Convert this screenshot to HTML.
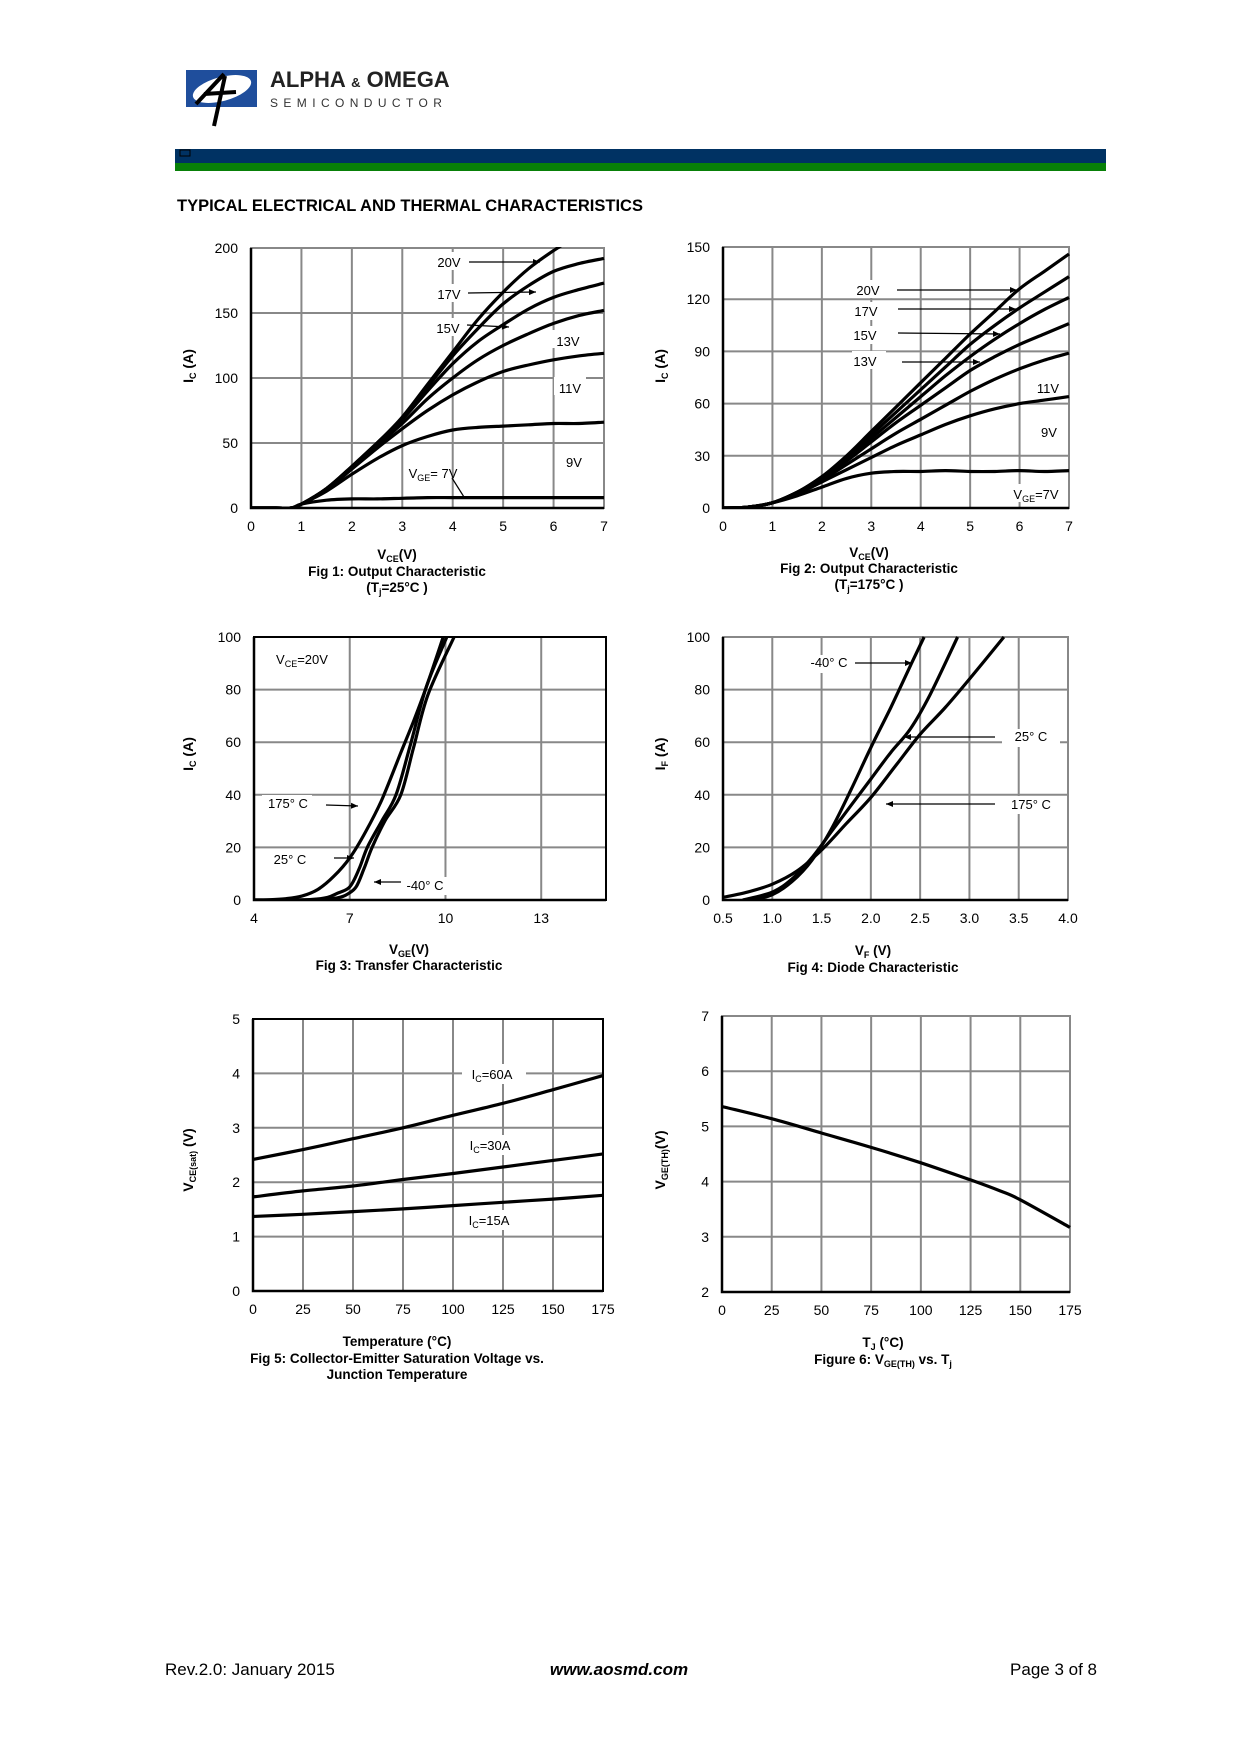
<!DOCTYPE html>
<html><head><meta charset="utf-8"><style>
html,body{margin:0;padding:0;background:#fff;}
body{width:1240px;height:1754px;position:relative;overflow:hidden;font-family:"Liberation Sans",Arial,sans-serif;}
svg text{font-family:"Liberation Sans",Arial,sans-serif;}
</style></head><body>
<svg id="pg" width="1240" height="1754" viewBox="0 0 1240 1754" xmlns="http://www.w3.org/2000/svg">
<g>
<rect x="186" y="70" width="71" height="37" fill="#1f4e9c"/>
<ellipse cx="222" cy="89" rx="30" ry="12" fill="#fff" transform="rotate(-15 222 89)"/>
<path d="M196 104 L224 74 M214 126 L225 76 M204 94 L236 92" stroke="#000" stroke-width="4" fill="none"/>
<text x="270" y="87" font-size="22" font-weight="bold" fill="#222">ALPHA <tspan font-size="13">&amp;</tspan> OMEGA</text>
<text x="270" y="107" font-size="12" fill="#333" letter-spacing="5.4">SEMICONDUCTOR</text>
</g>
<rect x="175" y="149" width="931" height="14" fill="#003263"/>
<rect x="175" y="163" width="931" height="8" fill="#088008"/>
<rect x="180" y="150" width="10" height="6" fill="none" stroke="#000" stroke-width="1"/>
<text x="177" y="211" font-size="16.5" font-weight="bold">TYPICAL ELECTRICAL AND THERMAL CHARACTERISTICS</text>
<g id="charts"></g>
<g font-size="17">
<text x="165" y="1675">Rev.2.0: January 2015</text>
<text x="619" y="1675" text-anchor="middle" font-style="italic" font-weight="bold">www.aosmd.com</text>
<text x="1097" y="1675" text-anchor="end">Page 3 of 8</text>
</g>
</svg>
<script>
// ---------- Fig 1 data ----------
const f1X = [0,0.5,0.8,1,1.5,2,2.5,3,3.5,4,4.5,5,5.5,6,6.5,7];
const f1V20 = [0,0,0,3,15,32,50,70,95,120,145,166,184,198,210,220];
const f1V17 = [0,0,0,3,15,32,50,69,93,117,138,157,171,182,188,192];
const f1V15 = [0,0,0,3,15,32,50,68,90,111,128,141,153,162,168,173];
const f1V13 = [0,0,0,3,15,31,48,65,84,100,114,125,134,142,148,152];
const f1V11 = [0,0,0,3,14,30,46,61,75,87,97,105,110,114,117,119];
const f1V9 = [0,0,0,3,13,26,38,48,55,60,62,63,64,65,65,66];
const f1V7 = [0,0,0,3,6,7,7,7.5,8,8,8,8,8,8,8,8];
const f1XTicks = [0,1,2,3,4,5,6,7];
const f1YTicks = [0,50,100,150,200];
// ---------- Fig 2 data ----------
const f2X = [0,0.5,1,1.5,2,2.5,3,3.5,4,4.5,5,5.5,6,6.5,7];
const f2V20 = [0,0.5,3,9,18,30,44,58,72,86,100,113,126,136,146];
const f2V17 = [0,0.5,3,9,18,29,42,55,68,81,94,105,115,124,133];
const f2V15 = [0,0.5,3,9,17,28,40,52,64,76,87,97,106,114,121];
const f2V13 = [0,0.5,3,9,17,27,38,49,59,69,79,87,94,100,106];
const f2V11 = [0,0.5,3,9,16,25,34,43,51,59,67,74,80,85,89];
const f2V9 = [0,0.5,3,8,15,22,29,36,42,48,53,57,60,62,64];
const f2V7 = [0,0.5,3,7,12,17,20,21,21,21.5,21,21,21.5,21,21.5];
const f2XTicks = [0,1,2,3,4,5,6,7];
const f2YTicks = [0,30,60,90,120,150];
// ---------- Fig 3 data ----------
const f3X175 = [4,4.5,5,5.5,6,6.5,7,7.5,8,8.6,9,9.4,9.93];
const f3Y175 = [0,0.1,0.5,1.5,4,9,16,26,38,56,68,81,100];
const f3X25 = [4,5,5.8,6.3,6.6,7,7.3,7.55,8,8.45,8.9,9.4,10.04];
const f3Y25 = [0,0,0.2,1,2.5,5,12,20,30,40,59,81,100];
const f3Xm40 = [4,5,6.1,6.6,6.9,7.2,7.45,7.7,8.1,8.6,9.0,9.45,10.27];
const f3Ym40 = [0,0,0.1,0.8,2,5,12,20,30,40,58,78,100];
const f3XTicks = [4,7,10,13];
const f3YTicks = [0,20,40,60,80,100];
// ---------- Fig 4 data ----------
const f4Xm40 = [0.8,1.0,1.2,1.4,1.6,1.8,2.0,2.2,2.4,2.54];
const f4Ym40 = [0,2,7,15,27,42,58,73,89,100];
const f4X25 = [0.7,1.0,1.2,1.4,1.6,1.8,2.0,2.2,2.4,2.6,2.88];
const f4Y25 = [0,3,8,16,26,36,46,56,65,78,100];
const f4X175 = [0.5,0.75,1.0,1.25,1.5,1.75,2.0,2.25,2.5,2.75,3.0,3.35];
const f4Y175 = [1,3,6,11,19,29,39,51,63,73,84,100];
const f4XTicks = [0.5,1.0,1.5,2.0,2.5,3.0,3.5,4.0];
const f4YTicks = [0,20,40,60,80,100];
// ---------- Fig 5 data ----------
const f5T = [0,25,50,75,100,125,150,175];
const f5I60 = [2.42,2.6,2.8,3.0,3.23,3.45,3.7,3.96];
const f5I30 = [1.73,1.84,1.93,2.05,2.16,2.28,2.4,2.52];
const f5I15 = [1.37,1.41,1.46,1.51,1.57,1.63,1.69,1.76];
const f5XTicks = [0,25,50,75,100,125,150,175];
const f5YTicks = [0,1,2,3,4,5];
// ---------- Fig 6 data ----------
const f6T = [0,25,50,75,100,125,140,150,175];
const f6V = [5.36,5.14,4.88,4.62,4.34,4.03,3.83,3.67,3.17];
const f6XTicks = [0,25,50,75,100,125,150,175];
const f6YTicks = [2,3,4,5,6,7];

const NS = "http://www.w3.org/2000/svg";
const root = document.getElementById('charts');
function mk(tag, attrs, parent){const e=document.createElementNS(NS,tag);for(const k in attrs)e.setAttribute(k,attrs[k]);(parent||root).appendChild(e);return e;}
function txt(parent,x,y,s,opts){const t=mk('text',Object.assign({x:x,y:y,'font-size':14},opts||{}),parent);t.innerHTML=s;return t;}

function chart(id,box,xd,yd,xt,yt,xfmt,borderBlackAll){
  const g=mk('g',{});
  
  
  const sx=v=>box.l+(v-xd[0])/(xd[1]-xd[0])*(box.r-box.l);
  const sy=v=>box.b-(v-yd[0])/(yd[1]-yd[0])*(box.b-box.t);
  const grid=mk('g',{stroke:'#888','stroke-width':2},g);
  
  
  xt.forEach(v=>{mk('line',{x1:sx(v),x2:sx(v),y1:box.t,y2:box.b},grid);});
  yt.forEach(v=>{mk('line',{x1:box.l,x2:box.r,y1:sy(v),y2:sy(v)},grid);});
  mk('rect',{x:box.l,y:box.t,width:box.r-box.l,height:box.b-box.t,fill:'none',stroke:borderBlackAll?'#000':'#888','stroke-width':2},g);
  mk('path',{d:`M${box.l} ${box.t} V${box.b} H${box.r}`,fill:'none',stroke:'#000','stroke-width':2.5},g);
  const xl=mk('g',{'font-size':14,'text-anchor':'middle'},g);
  
  
  xt.forEach(v=>txt(xl,sx(v),box.b+23,xfmt?xfmt(v):v));
  const yl=mk('g',{'font-size':14,'text-anchor':'end'},g);
  
  
  yt.forEach(v=>txt(yl,box.l-13,sy(v)+5,v));
  const cp=mk('clipPath',{id:id+'-clip'},g);
  mk('rect',{x:box.l,y:box.t-1,width:box.r-box.l+2,height:box.b-box.t+2},cp);
  return {g,sx,sy,id};
}
function series(c,id,xs,ys){
  const P=xs.map((x,i)=>[c.sx(x),c.sy(ys[i])]);
  let d='M'+P[0][0].toFixed(1)+' '+P[0][1].toFixed(1);
  for(let i=0;i<P.length-1;i++){
    const p0=P[Math.max(i-1,0)],p1=P[i],p2=P[i+1],p3=P[Math.min(i+2,P.length-1)];
    const c1=[p1[0]+(p2[0]-p0[0])/6,p1[1]+(p2[1]-p0[1])/6];
    const c2=[p2[0]-(p3[0]-p1[0])/6,p2[1]-(p3[1]-p1[1])/6];
    d+=` C${c1[0].toFixed(1)} ${c1[1].toFixed(1)} ${c2[0].toFixed(1)} ${c2[1].toFixed(1)} ${p2[0].toFixed(1)} ${p2[1].toFixed(1)}`;
  }
  const p=mk('path',{d:d,fill:'none',stroke:'#000','stroke-width':3.2,'stroke-linejoin':'round','clip-path':'url(#'+c.id+'-clip)'},c.g);
  
  
}
function arrow(g,x1,y1,x2,y2){
  mk('line',{x1:x1,y1:y1,x2:x2,y2:y2,stroke:'#000','stroke-width':1.3},g);
  const a=Math.atan2(y2-y1,x2-x1),L=7,W=3;
  const p=[[x2,y2],[x2-L*Math.cos(a)+W*Math.sin(a),y2-L*Math.sin(a)-W*Math.cos(a)],[x2-L*Math.cos(a)-W*Math.sin(a),y2-L*Math.sin(a)+W*Math.cos(a)]];
  mk('polygon',{points:p.map(q=>q.join(',')).join(' '),fill:'#000'},g);
}
function label(g,name,x,y,html,anchor){
  const t=txt(g,x,y,html,{'font-size':13,'text-anchor':anchor||'middle'});
  
  
  return t;
}
function bg(g,x,y,w,h){mk('rect',{x:x,y:y,width:w,height:h,fill:'#fff'},g);}
function ytitle(g,name,x,y,html){
  const t=mk('text',{x:x,y:y,'font-size':14,'font-weight':'bold','text-anchor':'middle',transform:`rotate(-90 ${x} ${y})`},g);
  t.innerHTML=html;
  
  
}
function caption(g,name,x,y,html){
  const t=mk('text',{x:x,y:y,'font-size':13.5,'font-weight':'bold','text-anchor':'middle'},g);
  t.innerHTML=html;
  
  
}
const sub=s=>`<tspan font-size="9" baseline-shift="-3">${s}</tspan>`;

// Fig 1
let c=chart('fig1-output-25c',{l:251,r:604,t:248,b:508},[0,7],[0,200],f1XTicks,f1YTicks,null,false);
bg(c.g,436,252,30,18);bg(c.g,436,284,30,18);bg(c.g,436,318,30,18);bg(c.g,552,330,32,18);bg(c.g,554,377,32,18);bg(c.g,560,451,28,18);
[['series-20v',f1V20],['series-17v',f1V17],['series-15v',f1V15],['series-13v',f1V13],['series-11v',f1V11],['series-9v',f1V9],['series-7v',f1V7]].forEach(s=>series(c,'fig1-'+s[0],f1X,s[1]));
label(c.g,'label-20v',449,267,'20V');arrow(c.g,469,262,540,262);
label(c.g,'label-17v',449,299,'17V');arrow(c.g,468,293,536,292);
label(c.g,'label-15v',448,333,'15V');arrow(c.g,467,325,509,327);
label(c.g,'label-13v',568,346,'13V');label(c.g,'label-11v',570,393,'11V');label(c.g,'label-9v',574,467,'9V');
label(c.g,'label-vge7v',433,478,'V'+sub('GE')+'= 7V');mk('line',{x1:452,y1:478,x2:464,y2:497,stroke:'#000','stroke-width':1.2},c.g);
ytitle(c.g,'y-axis-title',193,366,'I'+sub('C')+' (A)');
caption(c.g,'x-axis-title',397,559,'V'+sub('CE')+'(V)');
caption(c.g,'caption',397,576,'Fig 1: Output Characteristic');
caption(c.g,'caption-cond',397,592,'(T'+sub('j')+'=25°C )');

// Fig 2
c=chart('fig2-output-175c',{l:723,r:1069,t:247,b:508},[0,7],[0,150],f2XTicks,f2YTicks,null,false);
bg(c.g,852,280,34,18);bg(c.g,852,302,34,18);bg(c.g,852,326,34,18);bg(c.g,852,351,34,18);bg(c.g,1034,378,30,18);bg(c.g,1036,422,26,18);bg(c.g,1008,484,56,18);
[['series-20v',f2V20],['series-17v',f2V17],['series-15v',f2V15],['series-13v',f2V13],['series-11v',f2V11],['series-9v',f2V9],['series-7v',f2V7]].forEach(s=>series(c,'fig2-'+s[0],f2X,s[1]));
label(c.g,'label-20v',868,295,'20V');arrow(c.g,897,290,1017,290);
label(c.g,'label-17v',866,316,'17V');arrow(c.g,898,309,1016,309);
label(c.g,'label-15v',865,340,'15V');arrow(c.g,898,333,1000,334);
label(c.g,'label-13v',865,366,'13V');arrow(c.g,902,362,980,362);
label(c.g,'label-11v',1048,393,'11V');label(c.g,'label-9v',1049,437,'9V');
label(c.g,'label-vge7v',1036,499,'V'+sub('GE')+'=7V');
ytitle(c.g,'y-axis-title',665,366,'I'+sub('C')+' (A)');
caption(c.g,'x-axis-title',869,557,'V'+sub('CE')+'(V)');
caption(c.g,'caption',869,573,'Fig 2: Output Characteristic');
caption(c.g,'caption-cond',869,589,'(T'+sub('j')+'=175°C )');

// Fig 3
c=chart('fig3-transfer',{l:254,r:606,t:637,b:900},[4,15.03],[0,100],f3XTicks,f3YTicks,null,true);
bg(c.g,262,795,50,18);bg(c.g,266,850,44,18);bg(c.g,400,877,50,18);
series(c,'fig3-series-175c',f3X175,f3Y175);series(c,'fig3-series-25c',f3X25,f3Y25);series(c,'fig3-series-m40c',f3Xm40,f3Ym40);
label(c.g,'label-vce20v',302,664,'V'+sub('CE')+'=20V');
label(c.g,'label-175c',288,808,'175° C');arrow(c.g,326,805,358,806);
label(c.g,'label-25c',290,864,'25° C');arrow(c.g,334,858,354,858);
label(c.g,'label-m40c',425,890,'-40° C');arrow(c.g,401,882,374,882);
ytitle(c.g,'y-axis-title',193,754,'I'+sub('C')+' (A)');
caption(c.g,'x-axis-title',409,954,'V'+sub('GE')+'(V)');
caption(c.g,'caption',409,970,'Fig 3: Transfer Characteristic');

// Fig 4
c=chart('fig4-diode',{l:723,r:1068,t:637,b:900},[0.5,4.0],[0,100],f4XTicks,f4YTicks,v=>v.toFixed(1),false);
bg(c.g,802,655,52,18);bg(c.g,1002,729,58,18);bg(c.g,1002,796,60,18);
series(c,'fig4-series-m40c',f4Xm40,f4Ym40);series(c,'fig4-series-25c',f4X25,f4Y25);series(c,'fig4-series-175c',f4X175,f4Y175);
label(c.g,'label-m40c',829,667,'-40° C');arrow(c.g,855,663,912,663);
label(c.g,'label-25c',1031,741,'25° C');arrow(c.g,995,737,904,737);
label(c.g,'label-175c',1031,809,'175° C');arrow(c.g,995,804,886,804);
ytitle(c.g,'y-axis-title',665,754,'I'+sub('F')+' (A)');
caption(c.g,'x-axis-title',873,955,'V'+sub('F')+' (V)');
caption(c.g,'caption',873,972,'Fig 4: Diode Characteristic');

// Fig 5
c=chart('fig5-vcesat',{l:253,r:603,t:1019,b:1291},[0,175],[0,5],f5XTicks,f5YTicks,null,true);
bg(c.g,462,1064,64,20);bg(c.g,462,1135,64,20);bg(c.g,462,1210,64,20);
series(c,'fig5-series-60a',f5T,f5I60);series(c,'fig5-series-30a',f5T,f5I30);series(c,'fig5-series-15a',f5T,f5I15);
label(c.g,'label-60a',492,1079,'I'+sub('C')+'=60A');
label(c.g,'label-30a',490,1150,'I'+sub('C')+'=30A');
label(c.g,'label-15a',489,1225,'I'+sub('C')+'=15A');
ytitle(c.g,'y-axis-title',193,1160,'V'+sub('CE(sat)')+' (V)');
caption(c.g,'x-axis-title',397,1346,'Temperature (°C)');
caption(c.g,'caption',397,1363,'Fig 5: Collector-Emitter Saturation Voltage vs.');
caption(c.g,'caption-2',397,1379,'Junction Temperature');

// Fig 6
c=chart('fig6-vgeth',{l:722,r:1070,t:1016,b:1292},[0,175],[2,7],f6XTicks,f6YTicks,null,false);
series(c,'fig6-series-vgeth',f6T,f6V);
ytitle(c.g,'y-axis-title',665,1160,'V'+sub('GE(TH)')+'(V)');
caption(c.g,'x-axis-title',883,1347,'T'+sub('J')+' (°C)');
caption(c.g,'caption',883,1364,'Figure 6: V'+sub('GE(TH)')+' vs. T'+sub('j'));
</script>
</body></html>
